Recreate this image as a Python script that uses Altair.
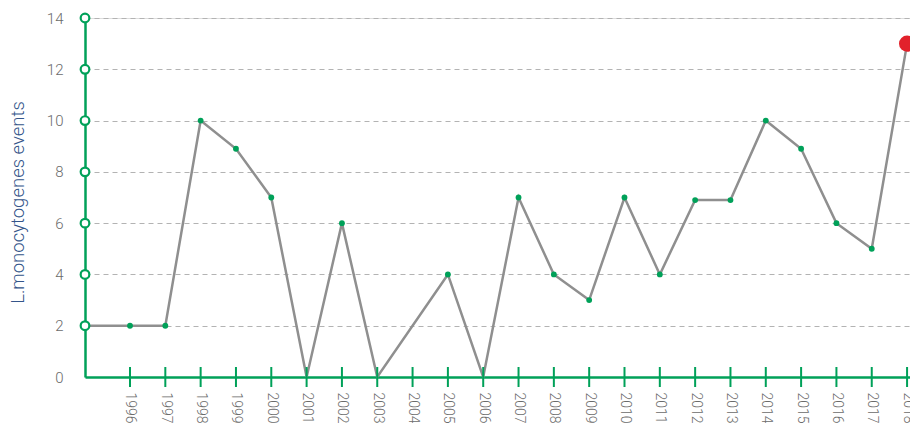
import altair as alt
import pandas as pd

# ---- data ----
YEARS = list(range(1996, 2019))
EVENTS = [2, 2, 10, 8.9, 7, 0, 6, 0, None, 4, 0, 7, 4, 3, 7, 4, 6.9, 6.9, 10, 8.9, 6, 5, 13]
Y_TICKS = [0, 2, 4, 6, 8, 10, 12, 14]
Y_MARKERS = [2, 4, 6, 8, 10, 12, 14]
HIGHLIGHT_YEAR = 2018
X_MIN, X_MAX = 1994.726, 2018.083

GREEN = "#00a159"
GRAY_LINE = "#8f8f8f"
RED = "#e2212b"
LABEL = "#6b6b6b"
TITLE = "#34558a"
FONT = "Roboto"

df = pd.DataFrame({"year": YEARS, "v": EVENTS})
line_df = pd.concat(
    [pd.DataFrame({"year": [X_MIN], "v": [EVENTS[0]]}), df], ignore_index=True
).dropna()
dots_df = df[(df["v"] > 0) & (df["year"] != HIGHLIGHT_YEAR)].dropna()
red_df = df[df["year"] == HIGHLIGHT_YEAR]
ticks_df = pd.DataFrame({"year": YEARS})
ymark_df = pd.DataFrame({"v": Y_MARKERS})

xscale = alt.Scale(domain=[X_MIN, X_MAX], nice=False, zero=False)
yscale = alt.Scale(domain=[0, 14], nice=False)

x_axis = alt.Axis(
    values=YEARS, format="d", labelAngle=90, labelAlign="left", labelBaseline="middle",
    labelPadding=15, ticks=False, grid=False, domainColor=GREEN, domainWidth=2.5,
    title=None, labelFlush=False, labelOverlap=False, labelBound=False,
    labelColor=LABEL, labelFont=FONT, labelFontSize=14, labelFontWeight=300,
)
y_axis = alt.Axis(
    values=Y_TICKS, ticks=False, grid=True, gridDash=[5, 4], gridColor="#b3b3b3",
    gridWidth=1, domainColor=GREEN, domainWidth=2.5, labelPadding=22,
    labelColor=LABEL, labelFont=FONT, labelFontSize=15, labelFontWeight=300,
    title="L.monocytogenes events", titleColor=TITLE, titleFont=FONT,
    titleFontSize=18.5, titleFontWeight=300, titleX=-62, titleY=184,
    titleAngle=-90, titleAlign="center", titleBaseline="alphabetic",
)

X = alt.X("year:Q", scale=xscale, axis=x_axis)
Y = alt.Y("v:Q", scale=yscale, axis=y_axis)

line = alt.Chart(line_df).mark_line(color=GRAY_LINE, strokeWidth=2.5).encode(x=X, y=Y)

xticks = alt.Chart(ticks_df).mark_rule(color=GREEN, strokeWidth=2).encode(
    x=X,
    y=alt.value(349),
    y2=alt.value(369),
)

dots = alt.Chart(dots_df).mark_circle(color=GREEN, size=34, opacity=1).encode(x=X, y=Y)

red = alt.Chart(red_df).mark_circle(color=RED, size=260, opacity=1).encode(x=X, y=Y)

ymarks = alt.Chart(ymark_df).mark_point(
    shape="circle", fill="white", filled=True, stroke=GREEN, strokeWidth=2.2, size=75, opacity=1
).encode(
    x=alt.datum(X_MIN, scale=xscale, axis=x_axis),
    y=Y,
)

chart = alt.layer(line, xticks, dots, red, ymarks).properties(
    width=825, height=359,
    autosize=alt.AutoSizeParams(type="none"),
    padding={"left": 77, "top": 10, "right": 0, "bottom": 46},
).configure_view(stroke=None).configure(background="white")

chart.save("out.html", embed_options={"renderer": "svg", "actions": False})
